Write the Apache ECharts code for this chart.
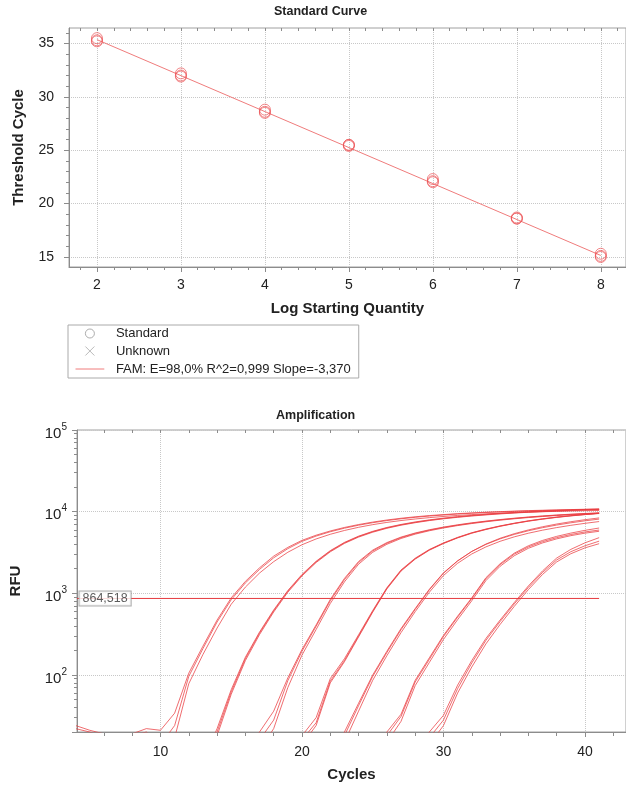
<!DOCTYPE html>
<html>
<head>
<meta charset="utf-8">
<script src="https://cdn.jsdelivr.net/npm/echarts@6/dist/echarts.min.js"></script>
<style>
  html, body { margin: 0; padding: 0; background: #fff; }
  #chart { width: 626px; height: 787px; }
</style>
</head>
<body>
<div id="chart"></div>
<script>
// ---- Standard curve data ----
const logQuantity = [2, 3, 4, 5, 6, 7, 8];
const ctRep1 = [35.5, 32.2, 28.8, 25.5, 22.3, 18.7, 15.3];
const ctRep2 = [35.3, 32.0, 28.6, 25.5, 22.1, 18.6, 15.1];
const ctRep3 = [35.2, 31.9, 28.5, 25.4, 22.0, 18.6, 15.0];
const fitX = [2, 8];
const fitCt = [35.36, 15.14];
const fitName = 'FAM: E=98,0% R^2=0,999 Slope=-3,370';

const stdXTicks = [2, 3, 4, 5, 6, 7, 8];
const stdXMinor = [1.8, 2.2, 2.4, 2.6, 2.8, 3.2, 3.4, 3.6, 3.8, 4.2, 4.4, 4.6, 4.8, 5.2, 5.4, 5.6, 5.8,
  6.2, 6.4, 6.6, 6.8, 7.2, 7.4, 7.6, 7.8, 8.2];
const stdYTicks = [15, 20, 25, 30, 35];
const stdYMinor = [16, 17, 18, 19, 21, 22, 23, 24, 26, 27, 28, 29, 31, 32, 33, 34, 36];

// ---- Amplification data (RFU per cycle, each curve starts at curveStart) ----
const ampXTicks = [10, 20, 30, 40];
const ampXMinor = [6, 8, 12, 14, 16, 18, 22, 24, 26, 28, 32, 34, 36, 38, 42];
const rfuMinor = [30, 40, 50, 60, 70, 80, 90, 200, 300, 400, 500, 600, 700, 800, 900,
  2000, 3000, 4000, 5000, 6000, 7000, 8000, 9000, 20000, 30000, 40000, 50000, 60000, 70000, 80000, 90000];
const thresholdRFU = 864.518;
const thresholdCycles = [4.1, 41];

const g1a = [24, 21, 19, 18, 19, 22, 21, 34, 105, 225, 470, 880, 1400, 2050, 2850, 3650, 4450, 5150, 5800, 6400, 6950, 7450, 7900, 8300, 8650, 8950, 9200, 9450, 9650, 9850, 10000, 10150, 10300, 10400, 10500, 10600, 10700, 10750];
const g1b = [22, 20, 17, 16, 18, 20, 14, 24, 96, 210, 445, 835, 1340, 1960, 2720, 3520, 4320, 5020, 5670, 6270, 6820, 7320, 7770, 8170, 8520, 8830, 9100, 9350, 9560, 9760, 9920, 10070, 10200, 10320, 10430, 10530, 10620, 10700];
const g1c = [12, 9, 17, 78, 178, 375, 735, 1190, 1770, 2440, 3180, 3930, 4630, 5280, 5880, 6430, 6930, 7380, 7780, 8130, 8450, 8730, 8980, 9200, 9400, 9570, 9720, 9860, 9980, 10080, 10180, 10260, 10330];
const g2a = [8, 20, 62, 158, 325, 610, 1060, 1670, 2430, 3280, 4150, 4950, 5680, 6330, 6900, 7400, 7850, 8250, 8600, 8920, 9200, 9460, 9690, 9900, 10080, 10250, 10400, 10540, 10660];
const g2b = [9, 22, 66, 165, 335, 625, 1080, 1700, 2470, 3330, 4200, 5010, 5740, 6400, 6970, 7480, 7930, 8330, 8690, 9000, 9290, 9550, 9780, 9990, 10170, 10340, 10490, 10630, 10750];
const g2c = [7, 18, 58, 150, 312, 590, 1030, 1630, 2380, 3220, 4080, 4880, 5600, 6250, 6820, 7320, 7770, 8170, 8520, 8840, 9120, 9380, 9610, 9820, 10000, 10170, 10320, 10460, 10580];
const g3a = [10, 20, 36, 92, 205, 410, 840, 1520, 2450, 3380, 4180, 4880, 5480, 6000, 6470, 6900, 7300, 7660, 8000, 8310, 8600, 8860, 9100, 9310, 9500, 9670];
const g3b = [8, 16, 28, 85, 195, 395, 810, 1470, 2380, 3300, 4100, 4800, 5400, 5930, 6400, 6830, 7230, 7600, 7940, 8250, 8540, 8800, 9040, 9250, 9440, 9610];
const g3c = [6, 12, 22, 70, 175, 360, 750, 1380, 2270, 3180, 3980, 4690, 5300, 5830, 6310, 6750, 7150, 7520, 7860, 8170, 8460, 8720, 8960, 9170, 9360, 9530];
const g4a = [8, 16, 26, 84, 150, 300, 600, 1150, 1900, 2650, 3400, 4100, 4800, 5480, 6080, 6650, 7180, 7680, 8130, 8540, 8900, 9230, 9530];
const g4b = [7, 14, 24, 80, 145, 292, 588, 1130, 1870, 2620, 3370, 4070, 4770, 5440, 6040, 6610, 7140, 7640, 8090, 8500, 8860, 9190, 9490];
const g4c = [9, 18, 30, 90, 158, 310, 615, 1170, 1930, 2690, 3440, 4140, 4840, 5520, 6120, 6690, 7220, 7720, 8170, 8580, 8940, 9270, 9570];
const g5a = [8, 20, 45, 100, 195, 370, 650, 1120, 1780, 2500, 3250, 3970, 4640, 5260, 5830, 6360, 6850, 7300, 7720, 8100];
const g5b = [7, 18, 42, 96, 188, 358, 635, 1100, 1760, 2490, 3260, 4010, 4720, 5370, 5970, 6530, 7050, 7530, 7970, 8380];
const g5c = [6, 15, 36, 86, 172, 330, 595, 1030, 1650, 2330, 3030, 3700, 4330, 4910, 5440, 5930, 6380, 6800, 7190, 7560];
const g6a = [8, 20, 33, 86, 162, 305, 525, 880, 1550, 2300, 3100, 3820, 4440, 4980, 5460, 5900, 6300];
const g6b = [7, 18, 31, 82, 155, 295, 510, 860, 1510, 2240, 3010, 3700, 4290, 4800, 5250, 5640, 5950];
const g6c = [6, 15, 27, 74, 142, 272, 475, 810, 1430, 2140, 2880, 3560, 4140, 4640, 5080, 5450, 5750];
const g7a = [10, 20, 32, 75, 150, 280, 470, 770, 1230, 1880, 2700, 3450, 4150, 4800];
const g7b = [8, 17, 28, 68, 140, 265, 450, 740, 1180, 1800, 2560, 3230, 3820, 4350];
const g7c = [6, 14, 24, 60, 125, 240, 415, 690, 1110, 1700, 2420, 3050, 3600, 4050];

const ampCurves = [g1a, g1b, g1c, g2a, g2b, g2c, g3a, g3b, g3c, g4a, g4b, g4c, g5a, g5b, g5c, g6a, g6b, g6c, g7a, g7b, g7c];
const curveStart = [4, 4, 9, 13, 13, 13, 16, 16, 16, 19, 19, 19, 22, 22, 22, 25, 25, 25, 28, 28, 28];

const font = 'Liberation Sans, Arial, sans-serif';
const textColor = '#222';
const axisGray = '#8c8c8c';

const stdXRange = [1.667, 8.3];
const stdYRange = [14.06, 36.45];
const ampXRange = [4.1, 42.9];
const ampYRange = [20, 100000];

// helper axis that only draws ticks
function tickAxis(gridIndex, type, position, range, values, length, inside) {
  return {
    gridIndex, type, position, min: range[0], max: range[1],
    axisLine: {show: false},
    axisLabel: {show: false},
    splitLine: {show: false},
    axisTick: {show: true, inside, length, customValues: values, lineStyle: {color: axisGray}}
  };
}

const nameStyle = {fontSize: 15, fontWeight: 'bold', color: textColor, fontFamily: font};
const labelStyle = {fontSize: 14, color: textColor, fontFamily: font};
const splitStyle = {show: true, lineStyle: {type: 'dotted', color: '#c8c8c8', width: 1}};

const stdPoints = [];
[ctRep1, ctRep2, ctRep3].forEach(rep => rep.forEach((ct, i) => stdPoints.push([logQuantity[i], ct])));

const series = [
  {
    name: fitName, type: 'line', xAxisIndex: 0, yAxisIndex: 0,
    data: fitX.map((x, i) => [x, fitCt[i]]),
    symbol: 'none', lineStyle: {color: '#f07c7c', width: 1}, itemStyle: {color: '#f07c7c'}, z: 2
  },
  {
    name: 'Standard', type: 'scatter', xAxisIndex: 0, yAxisIndex: 0,
    data: stdPoints, symbol: 'circle', symbolSize: 11,
    itemStyle: {color: 'rgba(0,0,0,0)', borderColor: 'rgba(236, 80, 84, 0.85)', borderWidth: 1}, z: 3
  },
  {name: 'Unknown', type: 'scatter', xAxisIndex: 0, yAxisIndex: 0, data: []}
];

ampCurves.forEach((vals, k) => {
  series.push({
    name: 'curve' + k, type: 'line', xAxisIndex: 3, yAxisIndex: 2,
    data: vals.map((v, i) => [curveStart[k] + i, v]),
    symbol: 'none', clip: true, silent: true,
    lineStyle: {color: 'rgba(234, 60, 64, 0.75)', width: 1}, z: 2
  });
});

series.push({
  name: 'threshold', type: 'line', xAxisIndex: 3, yAxisIndex: 2,
  data: thresholdCycles.map(c => [c, thresholdRFU]),
  symbol: 'none', lineStyle: {color: '#e5393e', width: 1}, z: 3
});
series.push({
  name: 'thresholdLabel', type: 'scatter', xAxisIndex: 3, yAxisIndex: 2,
  data: [[thresholdCycles[0], thresholdRFU]],
  symbol: 'rect', symbolSize: 1, itemStyle: {color: 'rgba(0,0,0,0)'}, z: 5,
  label: {
    show: true, position: 'right', distance: 2,
    formatter: () => String(thresholdRFU).replace('.', ','),
    fontSize: 12.5, color: '#333', fontFamily: font,
    backgroundColor: '#fff', borderColor: '#999', borderWidth: 1, padding: [1, 3, 0, 3]
  }
});

const option = {
  animation: false,
  backgroundColor: '#fff',
  title: [
    {text: 'Standard Curve', left: 274, top: 5, padding: 0,
      textStyle: {fontSize: 12.5, fontWeight: 'bold', color: textColor, fontFamily: font}},
    {text: 'Amplification', left: 276, top: 409, padding: 0,
      textStyle: {fontSize: 12.5, fontWeight: 'bold', color: textColor, fontFamily: font}}
  ],
  legend: {
    left: 68, top: 325, orient: 'vertical', padding: [2, 8, 2, 5], itemGap: 4,
    itemWidth: 32, itemHeight: 9, borderColor: '#aaa', borderWidth: 1, selectedMode: false,
    textStyle: {fontSize: 13, color: textColor, fontFamily: font, padding: [0, 0, 0, 5]},
    data: [
      {name: 'Standard', icon: 'circle', itemStyle: {color: '#fff', borderColor: '#999', borderWidth: 1}},
      {name: 'Unknown', icon: 'path://M0,0L10,10M10,0L0,10', itemStyle: {color: 'none', borderColor: '#aaa', borderWidth: 1}},
      {name: fitName, icon: 'path://M0,0M0,5L32,5M32,10',
        itemStyle: {color: 'none', borderColor: '#f07c7c', borderWidth: 1}}
    ]
  },
  grid: [
    {left: 69, top: 28, right: 0, height: 239, show: true, borderColor: '#a0a0a0', borderWidth: 1},
    {left: 72, top: 430, right: 0, height: 302, show: true, borderColor: '#a0a0a0', borderWidth: 1}
  ],
  xAxis: [
    {
      gridIndex: 0, type: 'value', position: 'bottom', min: stdXRange[0], max: stdXRange[1],
      name: 'Log Starting Quantity', nameLocation: 'middle', nameGap: 34, nameTextStyle: nameStyle,
      axisLine: {lineStyle: {color: axisGray}},
      axisTick: {length: 5, customValues: stdXTicks, lineStyle: {color: axisGray}},
      axisLabel: Object.assign({margin: 11, customValues: stdXTicks}, labelStyle),
      splitLine: splitStyle
    },
    tickAxis(0, 'value', 'bottom', stdXRange, stdXMinor, 3, false),
    tickAxis(0, 'value', 'top', stdXRange, stdXTicks.concat(stdXMinor), 3, true),
    {
      gridIndex: 1, type: 'value', position: 'bottom', min: ampXRange[0], max: ampXRange[1],
      name: 'Cycles', nameLocation: 'middle', nameGap: 35, nameTextStyle: nameStyle,
      axisLine: {lineStyle: {color: axisGray}},
      axisTick: {length: 5, customValues: ampXTicks, lineStyle: {color: axisGray}},
      axisLabel: Object.assign({margin: 13, customValues: ampXTicks}, labelStyle),
      splitLine: splitStyle
    },
    tickAxis(1, 'value', 'bottom', ampXRange, ampXMinor, 4, false),
    tickAxis(1, 'value', 'top', ampXRange, ampXTicks.concat(ampXMinor), 3, true)
  ],
  yAxis: [
    {
      gridIndex: 0, type: 'value', position: 'left', min: stdYRange[0], max: stdYRange[1],
      name: 'Threshold Cycle', nameLocation: 'middle', nameGap: 43, nameTextStyle: nameStyle,
      axisLine: {show: true, lineStyle: {color: axisGray}},
      axisTick: {show: true, length: 5, customValues: stdYTicks, lineStyle: {color: axisGray}},
      axisLabel: Object.assign({margin: 15, customValues: stdYTicks}, labelStyle),
      splitLine: splitStyle
    },
    tickAxis(0, 'value', 'left', stdYRange, stdYMinor, 3, false),
    {
      gridIndex: 1, type: 'log', logBase: 10, position: 'left', min: ampYRange[0], max: ampYRange[1],
      name: 'RFU', nameLocation: 'middle', nameGap: 54, nameTextStyle: nameStyle,
      axisLine: {show: true, lineStyle: {color: axisGray}},
      axisTick: {show: true, length: 5, lineStyle: {color: axisGray}},
      axisLabel: {
        margin: 10,
        formatter: v => {
          const e = Math.round(Math.log10(v));
          return Math.abs(Math.pow(10, e) - v) < 1e-6 * v ? '{b|10}{e|' + e + '}' : '';
        },
        rich: {
          b: {fontSize: 15, color: textColor, fontFamily: font, lineHeight: 22, verticalAlign: 'bottom'},
          e: {fontSize: 10, color: textColor, fontFamily: font, verticalAlign: 'top', padding: [3, 0, 0, 0]}
        }
      },
      splitLine: splitStyle
    },
    tickAxis(1, 'value', 'left', [Math.log10(ampYRange[0]), Math.log10(ampYRange[1])],
      rfuMinor.map(Math.log10), 3, false)
  ],
  series
};

const myChart = echarts.init(document.getElementById('chart'));
myChart.setOption(option);
</script>
</body>
</html>
